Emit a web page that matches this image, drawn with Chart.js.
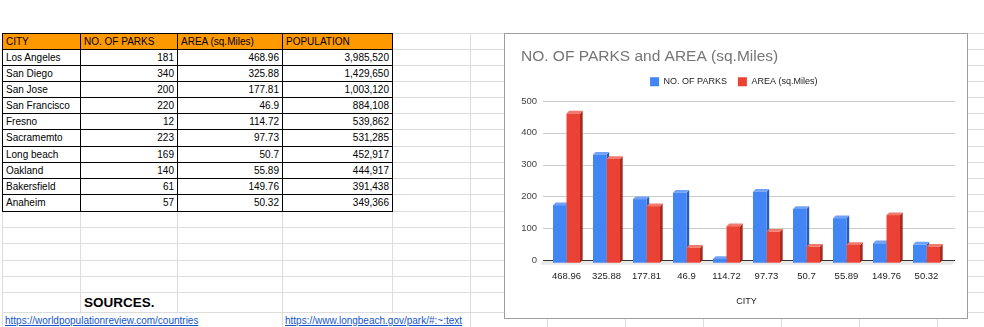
<!DOCTYPE html>
<html>
<head>
<meta charset="utf-8">
<script src="https://cdn.jsdelivr.net/npm/chart.js@4.4.1/dist/chart.umd.min.js"></script>
<style>
html,body{margin:0;padding:0;background:#fff;width:984px;height:327px;overflow:hidden;font-family:"Liberation Sans",Arial,sans-serif;}
#sheet{position:absolute;left:0;top:0;width:984px;height:327px;}
.hl{position:absolute;height:1px;background:#dcdcdc;}
.vl{position:absolute;width:1px;background:#dcdcdc;}
.bl{position:absolute;background:#000;}
.cell{position:absolute;box-sizing:border-box;font-size:10px;color:#000;white-space:nowrap;overflow:hidden;padding:0 3px;}
.txt{position:absolute;white-space:nowrap;}
#chartBox{position:absolute;left:504px;top:33px;width:464px;height:286px;box-sizing:border-box;border:1px solid #9e9e9e;background:#fff;}
#chartWrap{position:absolute;left:0;top:0;width:462px;height:284px;}
</style>
</head>
<body>
<div id="sheet"></div>
<div id="chartBox"><div id="chartWrap"><canvas id="c"></canvas></div></div>
<script>
// ---- data ----
const tableHeader = ['CITY', 'NO. OF PARKS', 'AREA (sq.Miles)', 'POPULATION'];
const cities = ['Los Angeles', 'San Diego', 'San Jose', 'San Francisco', 'Fresno', 'Sacramemto', 'Long beach', 'Oakland', 'Bakersfield', 'Anaheim'];
const parks = [181, 340, 200, 220, 12, 223, 169, 140, 61, 57];
const areaSqMiles = [468.96, 325.88, 177.81, 46.9, 114.72, 97.73, 50.7, 55.89, 149.76, 50.32];
const population = [3985520, 1429650, 1003120, 884108, 539862, 531285, 452917, 444917, 391438, 349366];
const xTickLabels = ['468.96', '325.88', '177.81', '46.9', '114.72', '97.73', '50.7', '55.89', '149.76', '50.32'];
const yTickValues = [0, 100, 200, 300, 400, 500];
const seriesNames = ['NO. OF PARKS', 'AREA (sq.Miles)'];
const chartTitle = 'NO. OF PARKS and AREA (sq.Miles)';
const xAxisTitle = 'CITY';
const sourcesLabel = 'SOURCES.';
const sourceLinks = ['https://worldpopulationreview.com/countries', 'https://www.longbeach.gov/park/#:~:text'];

// ---- spreadsheet grid ----
const sheet = document.getElementById('sheet');
function el(cls, style, text) {
  const e = document.createElement('div');
  e.className = cls;
  Object.assign(e.style, style);
  if (text != null) e.textContent = text;
  sheet.appendChild(e);
  return e;
}
const rowY = [33, 49, 65, 81, 97, 113, 129, 146, 162, 178, 194, 211, 227, 243, 260, 276, 292, 312, 328];
const colX = [2, 80, 177, 282, 392, 470, 547, 625, 703, 781, 859, 937];
const linkRowTop = 312;

// header fill
el('cell', {left: '2px', top: '33px', width: '390px', height: '16px', background: '#ff9900', padding: 0});

rowY.slice(0, -1).forEach(y => el('hl', {left: '2px', top: y + 'px', width: '982px'}));
colX.forEach(x => {
  el('vl', {left: x + 'px', top: '33px', height: (linkRowTop - 33) + 'px'});
  if (![80, 177, 392].includes(x)) el('vl', {left: x + 'px', top: linkRowTop + 'px', height: '16px'});
});
// black table borders
for (let r = 0; r <= 11; r++) el('bl', {left: '2px', top: rowY[r] + 'px', width: '391px', height: '1px'});
for (let c = 0; c <= 4; c++) el('bl', {left: colX[c] + 'px', top: '33px', width: '1px', height: (rowY[11] - 33 + 1) + 'px'});

function cell(r, c, text, align) {
  const h = rowY[r + 1] - rowY[r] - 1;
  el('cell', {
    left: (colX[c] + 1) + 'px', top: (rowY[r] + 1) + 'px',
    width: (colX[c + 1] - colX[c] - 1) + 'px', height: h + 'px',
    lineHeight: h + 'px', textAlign: align
  }, text);
}
tableHeader.forEach((t, c) => cell(0, c, t, 'left'));
cities.forEach((name, i) => {
  cell(i + 1, 0, name, 'left');
  cell(i + 1, 1, String(parks[i]), 'right');
  cell(i + 1, 2, String(areaSqMiles[i]), 'right');
  cell(i + 1, 3, population[i].toLocaleString('en-US'), 'right');
});
el('txt', {left: '84px', top: '292px', height: '20px', lineHeight: '21px', fontSize: '13.5px', fontWeight: 'bold', color: '#000'}, sourcesLabel);
el('txt', {left: '5px', top: '312px', height: '16px', lineHeight: '18px', fontSize: '10px', color: '#1155cc', textDecoration: 'underline'}, sourceLinks[0]);
el('txt', {left: '285px', top: '312px', height: '16px', lineHeight: '18px', fontSize: '10px', color: '#1155cc', textDecoration: 'underline'}, sourceLinks[1]);

// ---- chart ----
Chart.defaults.font.family = '"Liberation Sans", Arial, sans-serif';
const depth = 2.7;
const faceColors = [
  {front: '#4285f4', side: '#2c5cb4', top: '#72a2f7'},
  {front: '#ea4335', side: '#a62c22', top: '#f17a6f'}
];
const threeD = {
  id: 'threeD',
  beforeDatasetsDraw(chart) {
    const {ctx, chartArea: a, scales: {y}} = chart;
    const L = a.left - 3.5, R = a.right + 8.5;
    ctx.save();
    ctx.lineWidth = 1;
    ctx.strokeStyle = '#cccccc';
    yTickValues.forEach(v => {
      if (v === 0) return;
      const py = Math.round(y.getPixelForValue(v)) + 0.5;
      ctx.beginPath(); ctx.moveTo(L, py); ctx.lineTo(R, py); ctx.stroke();
    });
    const y0 = Math.round(y.getPixelForValue(0));
    ctx.fillStyle = '#e8e8e8';
    ctx.beginPath();
    ctx.moveTo(L, y0); ctx.lineTo(R, y0); ctx.lineTo(R - depth, y0 + depth + 2); ctx.lineTo(L - depth, y0 + depth + 2);
    ctx.closePath(); ctx.fill();
    ctx.strokeStyle = '#333333';
    ctx.beginPath(); ctx.moveTo(L, y0 + 0.5); ctx.lineTo(R, y0 + 0.5); ctx.stroke();
    chart.data.datasets.forEach((ds, i) => {
      const meta = chart.getDatasetMeta(i);
      const col = faceColors[i];
      meta.data.forEach(bar => {
        const p = bar.getProps(['x', 'y', 'base', 'width'], true);
        const l = p.x - p.width / 2, r = p.x + p.width / 2, t = p.y, b = p.base;
        ctx.fillStyle = col.side;
        ctx.beginPath();
        ctx.moveTo(r, t + depth); ctx.lineTo(r + depth, t); ctx.lineTo(r + depth, b); ctx.lineTo(r, b + depth);
        ctx.closePath(); ctx.fill();
        ctx.fillStyle = col.top;
        ctx.beginPath();
        ctx.moveTo(l, t + depth); ctx.lineTo(l + depth, t); ctx.lineTo(r + depth, t); ctx.lineTo(r, t + depth);
        ctx.closePath(); ctx.fill();
      });
    });
    ctx.restore();
    ctx.save();
    ctx.translate(0, depth);
  },
  afterDatasetsDraw(chart) {
    chart.ctx.restore();
  }
};

new Chart(document.getElementById('c'), {
  type: 'bar',
  data: {
    labels: xTickLabels,
    datasets: [
      {label: seriesNames[0], data: parks, backgroundColor: faceColors[0].front, borderWidth: 0, clip: false,
       categoryPercentage: 0.675, barPercentage: 1.0},
      {label: seriesNames[1], data: areaSqMiles, backgroundColor: faceColors[1].front, borderWidth: 0, clip: false,
       categoryPercentage: 0.675, barPercentage: 1.0}
    ]
  },
  options: {
    responsive: true,
    maintainAspectRatio: false,
    animation: false,
    layout: {padding: {left: 16, right: 20.5, top: 0, bottom: 0}},
    plugins: {
      title: {
        display: true, text: chartTitle, align: 'start', color: '#757575',
        font: {size: 15.5, weight: 'normal'}, padding: {top: 13.7, bottom: 0}
      },
      subtitle: {
        display: true, text: '', weight: 500, font: {size: 1, lineHeight: 1}, padding: {top: 0, bottom: 3.7}
      },
      legend: {
        display: true, position: 'top', align: 'center',
        labels: {boxWidth: 9, boxHeight: 9, padding: 11, color: '#222', font: {size: 9}}
      },
      tooltip: {enabled: false}
    },
    scales: {
      x: {
        grid: {display: false, drawTicks: false},
        border: {display: false},
        ticks: {color: '#222', font: {size: 9.5}, padding: 11, maxRotation: 0, autoSkip: false},
        title: {display: true, text: xAxisTitle, color: '#222', font: {size: 9}, padding: {top: 0, bottom: 10.6}},
        afterFit(s) { s.height = 58; }
      },
      y: {
        min: 0, max: 500,
        grid: {display: false, drawTicks: false},
        border: {display: false},
        ticks: {stepSize: 100, color: '#444', font: {size: 9.5}, padding: 9.5},
        afterFit(s) { s.width = 25.5; }
      }
    }
  },
  plugins: [threeD]
});
</script>
</body>
</html>
